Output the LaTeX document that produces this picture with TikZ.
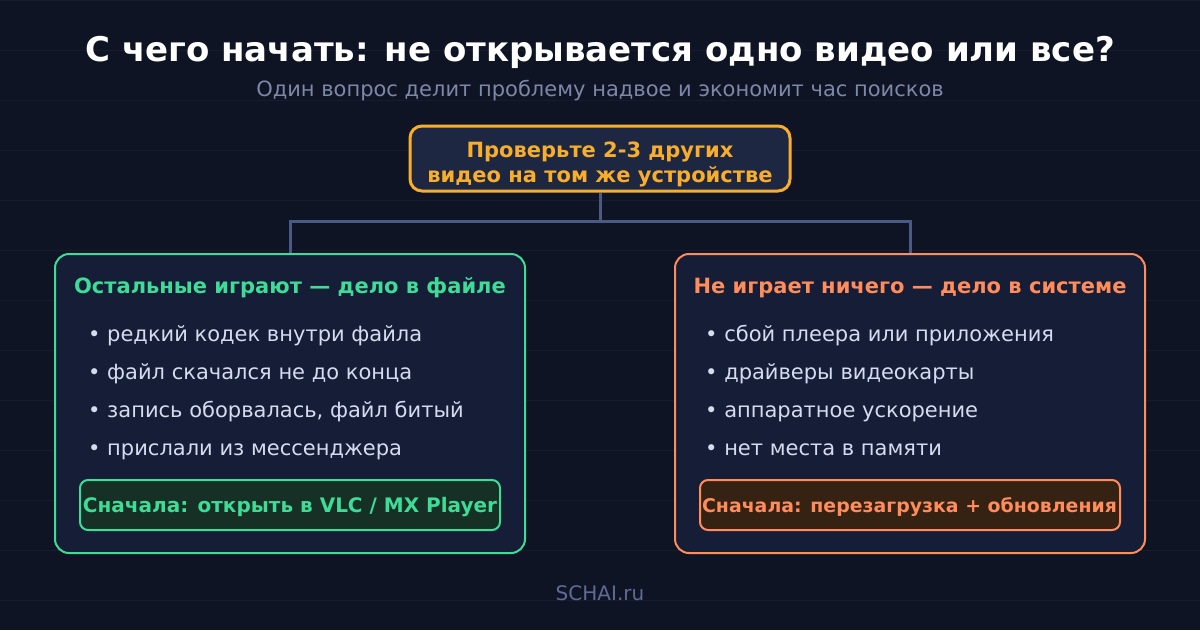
\documentclass[tikz,border=0pt]{standalone}
\usepackage{fontspec}
\setmainfont{DejaVu Sans}
\definecolor{bg}{HTML}{0F1424}
\definecolor{gridc}{HTML}{161C30}
\definecolor{subc}{HTML}{7D87A8}
\definecolor{footc}{HTML}{5F6B94}
\definecolor{topfill}{HTML}{1E2742}
\definecolor{topc}{HTML}{F8AE2A}
\definecolor{boxfill}{HTML}{161D36}
\definecolor{greenc}{HTML}{3DDC97}
\definecolor{orangec}{HTML}{FF8C5A}
\definecolor{gfill}{HTML}{163026}
\definecolor{ofill}{HTML}{352213}
\definecolor{conn}{HTML}{4A5A85}
\definecolor{itemc}{HTML}{D5DCEF}
\tikzset{
  topbox/.style={draw=topc, fill=topfill, line width=3pt, rounded corners=12pt, minimum width=380pt, minimum height=65pt, inner sep=0pt},
  toptext/.style={anchor=base, text=topc, inner sep=0pt, font=\bfseries\fontsize{21}{25}\selectfont},
  bigbox/.style={fill=boxfill, line width=2pt, rounded corners=14pt, minimum width=470pt, minimum height=299pt, inner sep=0pt},
  headtext/.style={anchor=base, font=\bfseries\fontsize{21}{25}\selectfont, inner sep=0pt},
  itemtext/.style={anchor=base west, text=itemc, font=\fontsize{21}{25}\selectfont, inner sep=0pt},
  actbox/.style={line width=2pt, rounded corners=8pt, minimum width=420pt, minimum height=50pt, inner sep=0pt},
  acttext/.style={anchor=base, inner sep=0pt, font=\bfseries\fontsize{20}{24}\selectfont},
  connline/.style={draw=conn, line width=3pt},
}
\begin{document}
\begin{tikzpicture}[x=1pt,y=-1pt]
\fill[bg] (0,0) rectangle (1200,630);
\useasboundingbox (0,0) rectangle (1200,630);
\foreach \yy in {0,50,...,600} {\draw[gridc, line width=1pt] (0,\yy) -- (1200,\yy);}

\node[anchor=base, text=white, font=\bfseries\fontsize{34}{40}\selectfont, inner sep=0pt] (title) at (600,61) {С чего начать: не открывается одно видео или все?};
\node[anchor=base, text=subc, font=\fontsize{21}{25}\selectfont, inner sep=0pt] (sub) at (600,96.5) {Один вопрос делит проблему надвое и экономит час поисков};

\node[topbox] (q) at (600,158.5) {};
\node[toptext] (q1) at (600,157.3) {Проверьте 2-3 других};
\node[toptext] (q2) at (600,182.3) {видео на том же устройстве};

\node[bigbox, draw=greenc] (L) at (290,403.5) {};
\node[bigbox, draw=orangec] (R) at (910,403.5) {};

\coordinate (j) at (600,221);
\draw[connline] (q.south) -- (j);
\draw[connline] (j) -| (L.north);
\draw[connline] (j) -| (R.north);

\node[headtext, text=greenc] (Lh) at (290,293) {Остальные играют — дело в файле};
\node[headtext, text=orangec] (Rh) at (910,293) {Не играет ничего — дело в системе};

\node[itemtext] (l1) at (88,341) {• редкий кодек внутри файла};
\node[itemtext] (l2) at (88,379) {• файл скачался не до конца};
\node[itemtext] (l3) at (88,417) {• запись оборвалась, файл битый};
\node[itemtext] (l4) at (88,455) {• прислали из мессенджера};

\node[itemtext] (r1) at (705,341) {• сбой плеера или приложения};
\node[itemtext] (r2) at (705,379) {• драйверы видеокарты};
\node[itemtext] (r3) at (705,417) {• аппаратное ускорение};
\node[itemtext] (r4) at (705,455) {• нет места в памяти};

\node[actbox, draw=greenc, fill=gfill] (La) at (290,505) {};
\node[acttext, text=greenc] (Lat) at (290,512.3) {Сначала: открыть в VLC / MX Player};
\node[actbox, draw=orangec, fill=ofill] (Ra) at (910,505) {};
\node[acttext, text=orangec, font=\bfseries\fontsize{18.9}{24}\selectfont] (Rat) at (909.5,512.3) {Сначала: перезагрузка + обновления};

\node[anchor=base, text=footc, font=\fontsize{20}{24}\selectfont, inner sep=0pt] (foot) at (600,600) {SCHAI.ru};
\end{tikzpicture}
\end{document}
